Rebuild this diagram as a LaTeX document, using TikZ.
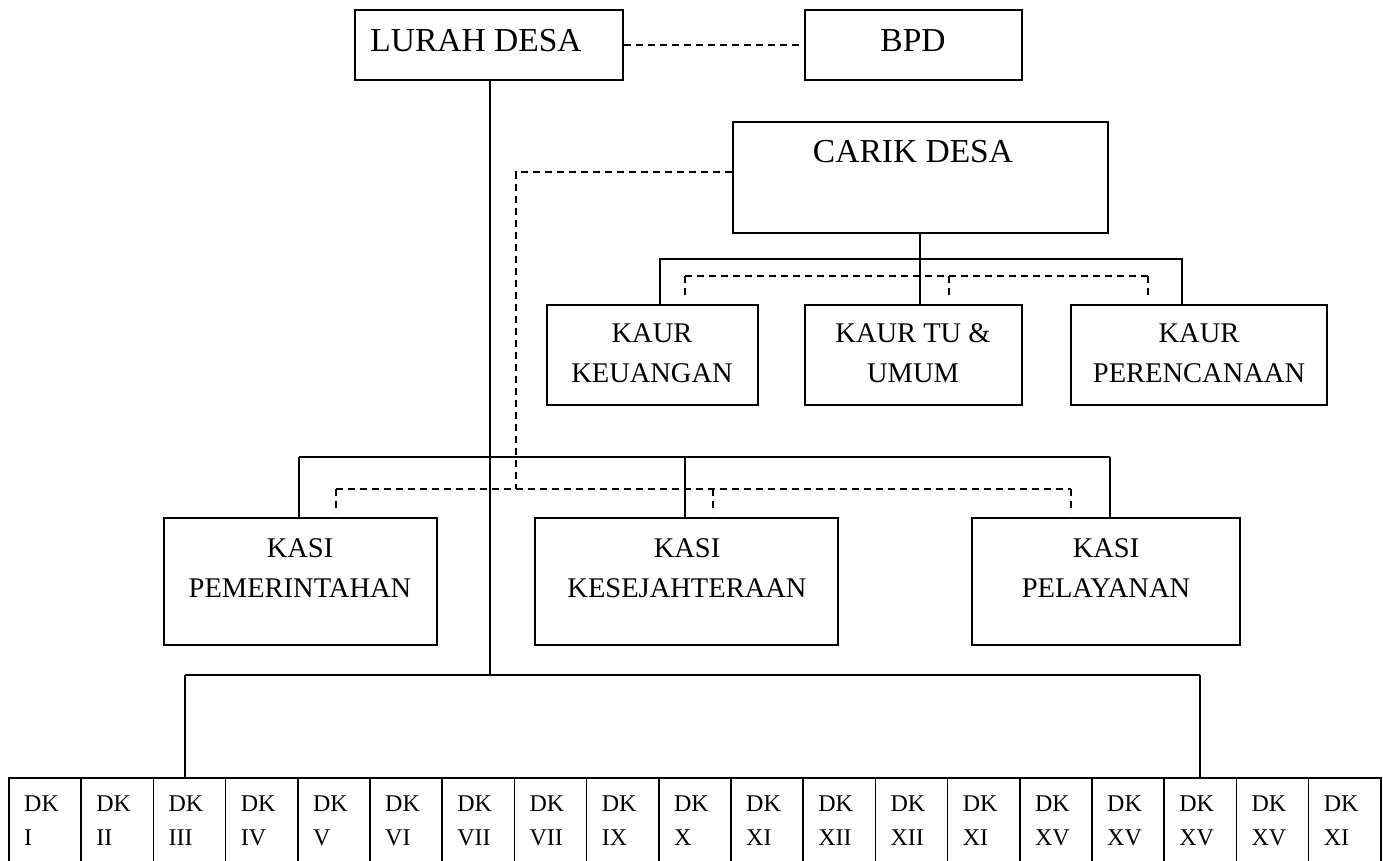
\documentclass[tikz,border=0pt]{standalone}
\usepackage{fontspec}
\setmainfont{Liberation Serif}
\usetikzlibrary{fit}
\newcommand\fsTop{\fontsize{33.5}{40}\selectfont}
\newcommand\fsMid{\fontsize{28.5}{40}\selectfont}
\newcommand\fsDK{\fontsize{24}{33}\selectfont}
\begin{document}
\begin{tikzpicture}[x=1pt,y=-1pt,
  box/.style={draw, line width=1.8pt, inner sep=0pt},
  dkbox/.style={draw, line width=1.5pt, inner sep=0pt},
  ln/.style={line width=1.4pt},
  dsh/.style={line width=2pt, dash pattern=on 7pt off 5pt},
  tT/.style={anchor=base, inner sep=0pt, font=\fsTop},
  tM/.style={anchor=base, inner sep=0pt, font=\fsMid},
  tD/.style={anchor=base west, inner sep=0pt, font=\fsDK}]
\useasboundingbox (0,0) rectangle (1383,861);
\clip (0,0) rectangle (1383,861);
\fill[white] (0,0) rectangle (1383,861);

% top boxes
\node[box, fit={(355,10) (623,80)}] (lurah) {};
\node[tT] (lurahT) at (476,52) {LURAH DESA};
\node[box, fit={(805,10) (1022,80)}] (bpd) {};
\node[tT] (bpdT) at (913,52) {BPD};
\node[box, fit={(733,122) (1108,233)}] (carik) {};
\node[tT] (carikT) at (913,163) {CARIK DESA};

% KAUR boxes
\node[box, fit={(547,305) (758,405)}] (kaurk) {};
\node[tM] (kaurkA) at (652,342) {KAUR};
\node[tM] (kaurkB) at (652,382) {KEUANGAN};
\node[box, fit={(805,305) (1022,405)}] (kaurt) {};
\node[tM] (kaurtA) at (913,342) {KAUR TU \&};
\node[tM] (kaurtB) at (913,382) {UMUM};
\node[box, fit={(1071,305) (1327,405)}] (kaurp) {};
\node[tM] (kaurpA) at (1199,342) {KAUR};
\node[tM] (kaurpB) at (1199,382) {PERENCANAAN};

% KASI boxes
\node[box, fit={(164,518) (437,645)}] (kasip) {};
\node[tM] (kasipA) at (300,557) {KASI};
\node[tM] (kasipB) at (300,597) {PEMERINTAHAN};
\node[box, fit={(535,518) (838,645)}] (kasik) {};
\node[tM] (kasikA) at (687,557) {KASI};
\node[tM] (kasikB) at (687,597) {KESEJAHTERAAN};
\node[box, fit={(972,518) (1240,645)}] (kasil) {};
\node[tM] (kasilA) at (1106,557) {KASI};
\node[tM] (kasilB) at (1106,597) {PELAYANAN};

% DK row
\foreach \r [count=\i from 0] in {I,II,III,IV,V,VI,VII,VII,IX,X,XI,XII,XII,XI,XV,XV,XV,XV,XI}{
  \pgfmathsetmacro\xa{9+72.2*\i}
  \pgfmathsetmacro\xb{9+72.2*(\i+1)}
  \node[dkbox, fit={(\xa,778) (\xb,864)}] (dk\i) {};
  \node[tD] (dkA\i) at (\xa+15,811) {DK};
  \node[tD] (dkB\i) at (\xa+15,845) {\r};
}

% coordinates
\coordinate (ck) at (516,172);
\coordinate (ckd) at (516,489);
\coordinate (kb1) at (660,259);
\coordinate (kb2) at (1182,259);
\coordinate (kd1) at (685,276);
\coordinate (kd2) at (949,276);
\coordinate (kd3) at (1148,276);
\coordinate (sb1) at (299,457);
\coordinate (sb2) at (685,457);
\coordinate (sb3) at (1110,457);
\coordinate (sd1) at (336,489);
\coordinate (sd2) at (713,489);
\coordinate (sd3) at (1071,489);
\coordinate (db0) at (490,675);
\coordinate (db1) at (185,675);
\coordinate (db2) at (1200,675);

% connectors
\draw[dsh] (lurah.east) -- (bpd.west);
\draw[ln] (lurah.south -| db0) -- (db0);
\draw[ln] (db1) -- (db2);
\draw[ln] (db1) -- (db1 |- dk2.north);
\draw[ln] (db2) -- (db2 |- dk16.north);

\draw[dsh] (carik.west |- ck) -- (ck) -- (ckd);

\draw[ln] (carik.south -| 920,0) -- (kaurt.north -| 920,0);
\draw[ln] (kaurk.north -| kb1) -- (kb1) -- (kb2) -- (kaurp.north -| kb2);
\draw[dsh] (kd1) -- (kd3);
\foreach \c in {kd1,kd2,kd3} \draw[dsh] (\c) -- ([yshift=-22pt]\c);

\draw[ln] (sb1) -- (sb3);
\draw[ln] (sb1) -- (kasip.north -| sb1);
\draw[ln] (sb2) -- (kasik.north -| sb2);
\draw[ln] (sb3) -- (kasil.north -| sb3);
\draw[dsh] (sd1) -- (sd3);
\foreach \c in {sd1,sd2,sd3} \draw[dsh] (\c) -- ([yshift=-24pt]\c);
\end{tikzpicture}
\end{document}
